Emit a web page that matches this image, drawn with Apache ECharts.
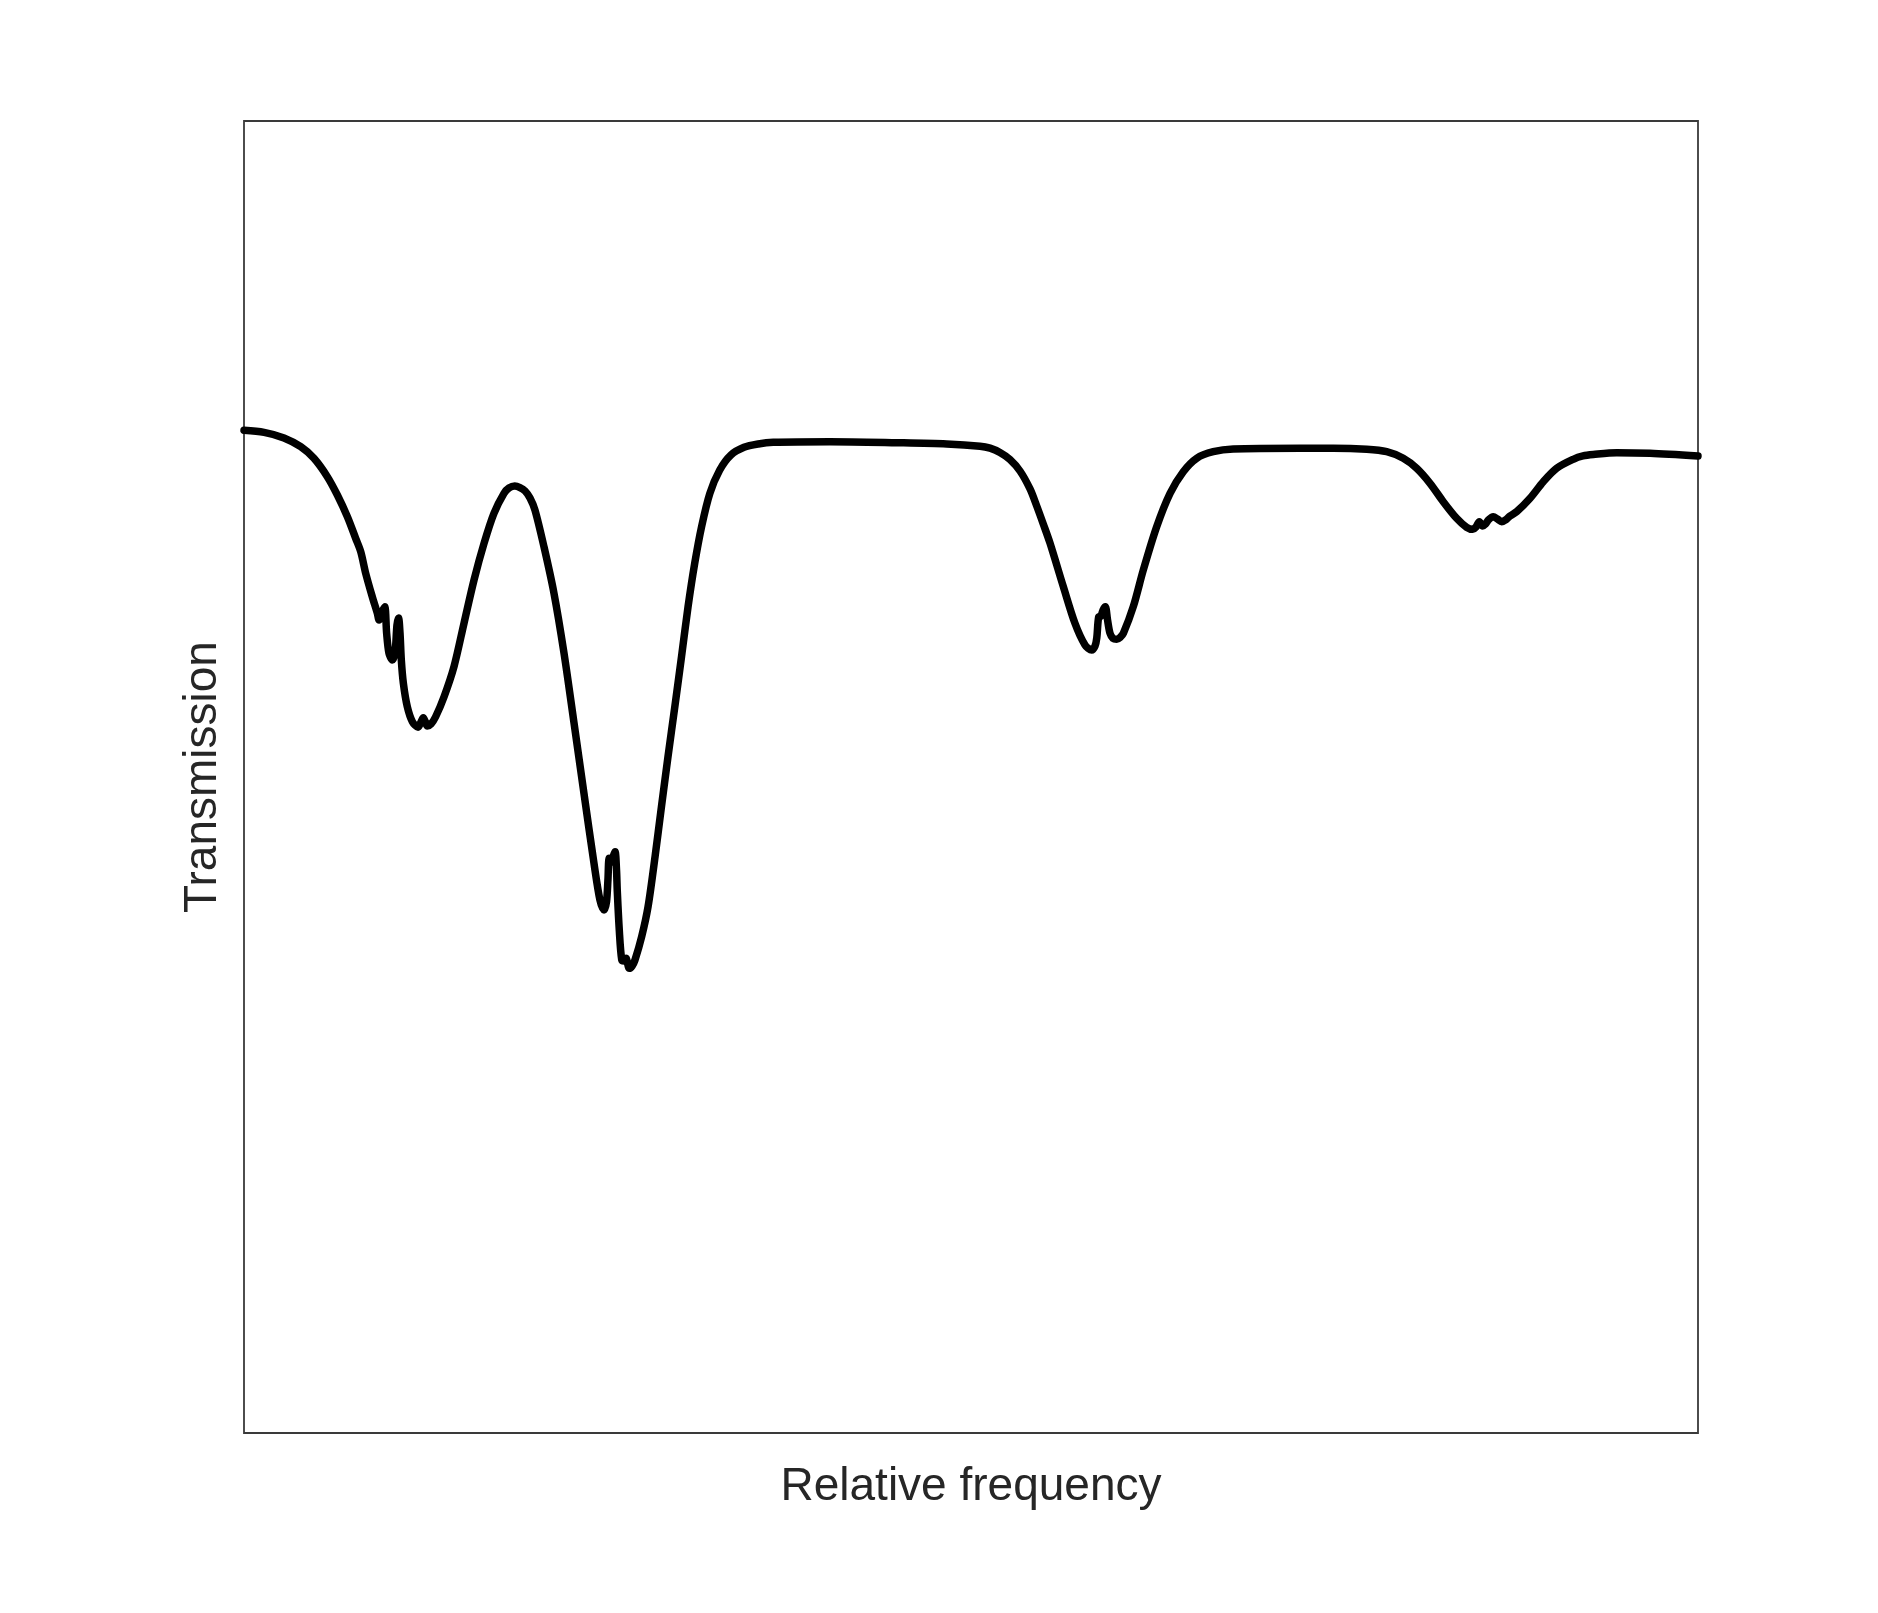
<!DOCTYPE html>
<html>
<head>
<meta charset="utf-8">
<script src="https://cdn.jsdelivr.net/npm/echarts@6/dist/echarts.min.js"></script>
<style>
html,body{margin:0;padding:0;background:#fff;}
#chart{width:1878px;height:1613px;}
</style>
</head>
<body>
<div id="chart"></div>
<script>
// Relative frequency (0-100, arbitrary units)
const freq = [
  0, 1.38, 2.75, 3.90, 4.81, 5.73, 6.42, 7.11, 7.68, 8.03,
  8.37, 8.82, 9.17, 9.29, 9.49, 9.68, 9.81, 9.97, 10.20, 10.39,
  10.52, 10.63, 10.73, 10.82, 10.96, 11.23, 11.58, 11.97, 12.17, 12.33,
  12.48, 12.61, 12.86, 13.18, 13.76, 14.44, 15.13, 15.82, 16.51, 17.19,
  17.88, 18.23, 18.62, 18.98, 19.33, 19.67, 20.01, 20.63, 21.32, 22.01, 22.70,
  23.38, 24.07, 24.48, 24.76, 24.93, 25.03, 25.12, 25.28, 25.38, 25.52,
  25.62, 25.67, 25.81, 25.98, 26.14, 26.27, 26.50, 26.69, 26.89, 27.35,
  27.79, 28.27, 28.71, 29.16, 29.63, 30.09, 30.54, 31.00, 31.47, 32.04,
  32.72, 33.49, 34.39, 35.37, 36.40, 40.30, 44.89, 48.33, 50.62, 51.31,
  51.99, 52.68, 53.37, 54.06, 54.52, 54.97, 55.43, 56.35, 57.15, 57.84,
  58.30, 58.53, 58.65, 58.78, 58.94, 59.08, 59.24, 59.39, 59.56, 59.77,
  60.02, 60.25, 60.48, 61.16, 61.85, 62.77, 63.69, 64.60, 65.52, 66.66,
  68.04, 72.63, 74.92, 77.22, 78.59, 79.73, 80.65, 81.57, 82.48, 83.40,
  84.09, 84.51, 84.73, 84.96, 85.19, 85.39, 85.58, 85.92, 86.21, 86.50,
  86.80, 87.07, 87.53, 88.45, 89.36, 90.28, 91.42, 92.09, 92.80, 94.41, 96.70,
  100
];
// Transmission (arbitrary units, baseline ~1)
const transmission = [
  0.9935, 0.9915, 0.9860, 0.9773, 0.9658, 0.9476, 0.9294, 0.9079, 0.8865, 0.8732,
  0.8518, 0.8287, 0.8122, 0.8056, 0.8135, 0.8187, 0.7924, 0.7726, 0.7659, 0.7739,
  0.8006, 0.8076, 0.7927, 0.7659, 0.7428, 0.7197, 0.7048, 0.6993, 0.7045, 0.7087,
  0.7045, 0.7005, 0.7025, 0.7097, 0.7296, 0.7593, 0.8023, 0.8452, 0.8816, 0.9113,
  0.9311, 0.9364, 0.9383, 0.9368, 0.9334, 0.9265, 0.9146, 0.8782, 0.8320, 0.7726, 0.7032,
  0.6339, 0.5645, 0.5281, 0.5182, 0.5262, 0.5479, 0.5694, 0.5658, 0.5707, 0.5760,
  0.5578, 0.5380, 0.4984, 0.4687, 0.4677, 0.4704, 0.4604, 0.4627, 0.4687, 0.4918,
  0.5215, 0.5710, 0.6206, 0.6701, 0.7197, 0.7692, 0.8187, 0.8618, 0.8980, 0.9311,
  0.9542, 0.9691, 0.9767, 0.9800, 0.9816, 0.9822, 0.9812, 0.9800, 0.9778, 0.9758,
  0.9715, 0.9646, 0.9532, 0.9354, 0.9185, 0.9007, 0.8819, 0.8386, 0.8023, 0.7808,
  0.7758, 0.7798, 0.7877, 0.8085, 0.8095, 0.8155, 0.8187, 0.8056, 0.7924, 0.7872,
  0.7864, 0.7882, 0.7924, 0.8187, 0.8551, 0.8980, 0.9311, 0.9525, 0.9658, 0.9723,
  0.9750, 0.9757, 0.9757, 0.9747, 0.9723, 0.9658, 0.9559, 0.9410, 0.9228, 0.9063,
  0.8974, 0.8954, 0.8977, 0.9030, 0.8987, 0.9007, 0.9047, 0.9079, 0.9056, 0.9030,
  0.9051, 0.9086, 0.9129, 0.9262, 0.9426, 0.9559, 0.9648, 0.9681, 0.9695, 0.9713, 0.9707,
  0.9681
];
const xRange = [0, 100];
const yRange = [0, 1.3];
const xLabel = 'Relative frequency';
const yLabel = 'Transmission';

const points = freq.map((f, i) => [f, transmission[i]]);

const chart = echarts.init(document.getElementById('chart'), null, {renderer: 'canvas'});
const fontFamily = '"Liberation Sans", Arial, Helvetica, sans-serif';
chart.setOption({
  animation: false,
  backgroundColor: '#ffffff',
  grid: {
    left: 244, right: 180, top: 121, bottom: 180,
    show: true, borderColor: '#3a3a3a', borderWidth: 1.8,
    backgroundColor: 'transparent', containLabel: false
  },
  xAxis: {
    type: 'value', min: xRange[0], max: xRange[1],
    name: xLabel, nameLocation: 'middle', nameGap: 31,
    nameTextStyle: {fontSize: 46, color: '#262626', fontFamily: fontFamily},
    axisLine: {show: false}, axisTick: {show: false},
    axisLabel: {show: false}, splitLine: {show: false}
  },
  yAxis: {
    type: 'value', min: yRange[0], max: yRange[1],
    name: yLabel, nameLocation: 'middle', nameGap: 18,
    nameTextStyle: {fontSize: 46, color: '#262626', fontFamily: fontFamily},
    axisLine: {show: false}, axisTick: {show: false},
    axisLabel: {show: false}, splitLine: {show: false}
  },
  series: [{
    type: 'line',
    data: points,
    showSymbol: false,
    smooth: 0.3,
    lineStyle: {color: '#000000', width: 7.5, cap: 'round', join: 'round'},
    emphasis: {disabled: true}
  }]
});
</script>
</body>
</html>
